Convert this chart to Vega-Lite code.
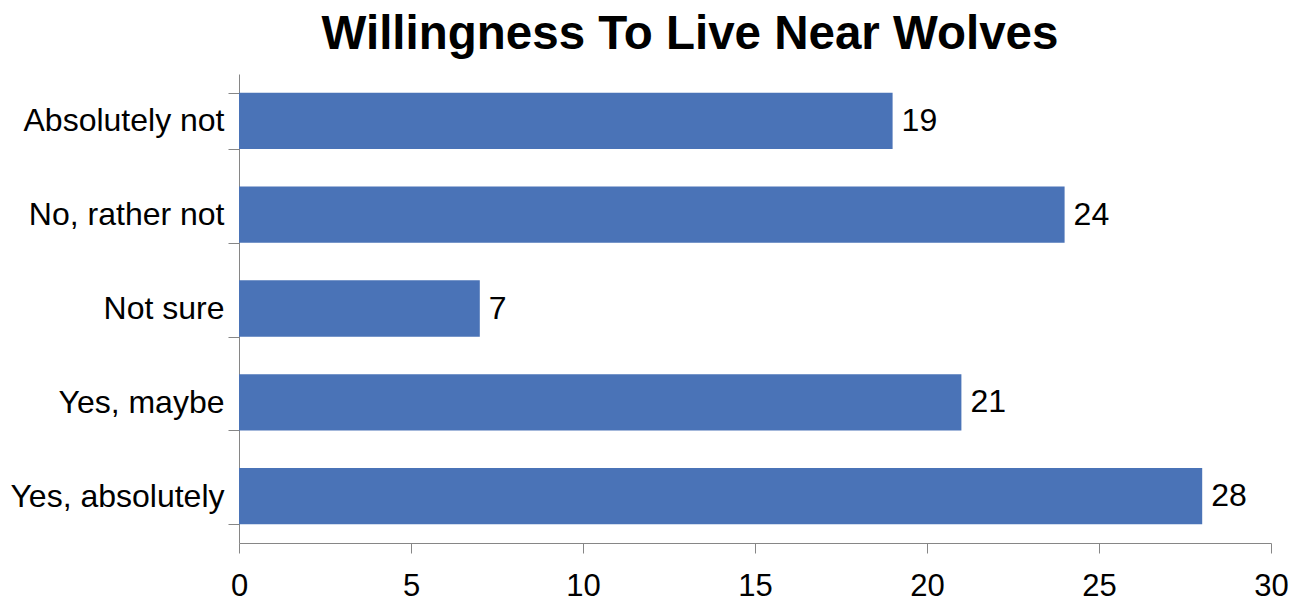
{
  "$schema": "https://vega.github.io/schema/vega-lite/v6.json",
  "width": 1032,
  "height": 469,
  "autosize": {"type": "none"},
  "padding": {"left": 239, "top": 74, "right": 31, "bottom": 59},
  "background": "white",
  "title": {
    "text": "Willingness To Live Near Wolves",
    "font": "Liberation Sans",
    "fontSize": 47.5,
    "fontWeight": "bold",
    "color": "black",
    "anchor": "middle",
    "baseline": "alphabetic",
    "offset": -38,
    "dx": -65
  },
  "config": {
    "view": {"stroke": null},
    "font": "Liberation Sans"
  },
  "data": {
    "values": [
      {"answer": "Absolutely not", "count": 19},
      {"answer": "No, rather not", "count": 24},
      {"answer": "Not sure", "count": 7},
      {"answer": "Yes, maybe", "count": 21},
      {"answer": "Yes, absolutely", "count": 28}
    ]
  },
  "encoding": {
    "y": {
      "field": "answer",
      "type": "nominal",
      "sort": null,
      "scale": {"paddingInner": 0.4, "paddingOuter": 0.2},
      "axis": {
        "title": null,
        "domainColor": "#868686",
        "tickColor": "#868686",
        "tickSize": 11,
        "tickBand": "extent",
        "labelFont": "Liberation Sans",
        "labelFontSize": 32,
        "labelColor": "black",
        "labelPadding": 4,
        "labelLimit": 400
      }
    },
    "x": {
      "field": "count",
      "type": "quantitative",
      "scale": {"domain": [0, 30], "nice": false},
      "axis": {
        "title": null,
        "values": [0, 5, 10, 15, 20, 25, 30],
        "grid": false,
        "domainColor": "#868686",
        "tickColor": "#868686",
        "tickSize": 10,
        "labelFont": "Liberation Sans",
        "labelFontSize": 31,
        "labelColor": "black",
        "labelPadding": 18,
        "labelFlush": false
      }
    }
  },
  "layer": [
    {"mark": {"type": "bar", "color": "#4A73B7"}},
    {
      "mark": {"type": "text", "align": "left", "baseline": "middle", "dx": 9, "fontSize": 32, "font": "Liberation Sans", "color": "black"},
      "encoding": {"text": {"field": "count", "type": "quantitative"}}
    }
  ]
}
